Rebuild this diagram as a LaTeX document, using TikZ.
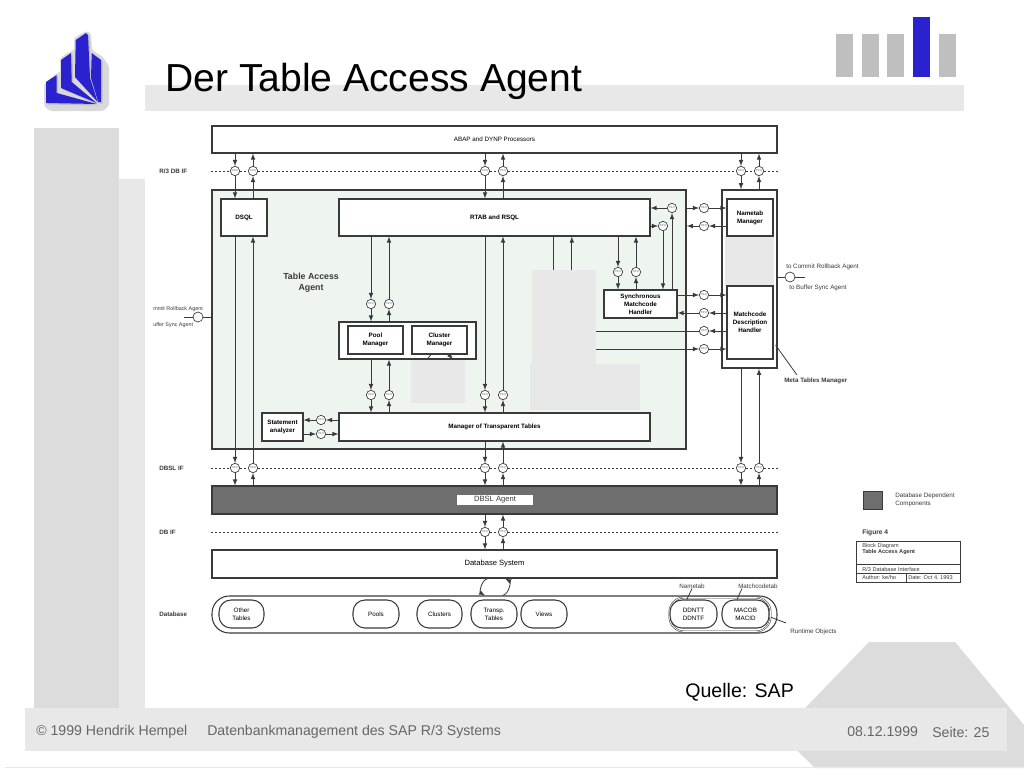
\documentclass[tikz,border=0pt]{standalone}
\usepackage{fontspec}
\setmainfont{Liberation Sans}
\usepackage{tikz}
\newcommand{\txtsmall}{\fontsize{4.7}{6}\selectfont}
\newcommand{\txtbold}{\fontsize{4.7}{6}\selectfont\bfseries}
\definecolor{band}{HTML}{E8E8E8}
\definecolor{panel}{HTML}{DCDCDC}
\definecolor{bar}{HTML}{BFBFBF}
\definecolor{logoblue}{HTML}{2B22CF}
\definecolor{agent}{HTML}{EEF5EF}
\definecolor{ink}{HTML}{3A3A3A}
\tikzset{
    box/.style 2 args={draw=ink,line width=.8pt,fill=white,inner sep=0pt,align=center,font=\txtbold,
        minimum width=#1*.75pt,minimum height=#2*.75pt},
    pill/.style 2 args={box={#1}{#2},rounded corners=9pt,font=\txtsmall},
    patch/.style 2 args={fill=band,inner sep=0pt,minimum width=#1*.75pt,minimum height=#2*.75pt},
    port/.style={circle,draw=ink,line width=.5pt,fill=white,inner sep=0pt,minimum size=7pt,
        font=\fontsize{2.2}{2.5}\selectfont,text=gray},
    lolly/.style={circle,draw=ink,line width=.5pt,fill=white,inner sep=0pt,minimum size=7.5pt},
    link/.style={line width=.6pt,draw=ink},
    ifline/.style={line width=.5pt,draw=ink,dash pattern=on 1.5pt off 1.5pt},
    lbl/.style={anchor=west,inner sep=0pt,font=\txtsmall,text=ink},
    lblb/.style={anchor=west,inner sep=0pt,font=\txtbold,text=ink},
    foot/.style={anchor=west,inner sep=0pt,font=\fontsize{10.6}{12}\selectfont,text=black!60}
}
\begin{document}
\begin{tikzpicture}[>=latex,x=.75pt,y=-.75pt]
    \useasboundingbox[fill=white] (0,0) rectangle (1024,768);
    % slide background
    \fill[panel] (34,128) rectangle (119,708);
    \fill[band] (119,179) rectangle (145,708);
    \fill[band] (145,85) rectangle (964,111);
    \fill[panel] (869,642)--(955,642)--(1024,725)--(1024,768)--(815,768)--(780,734)--cycle;
    \fill[band] (25,708) rectangle (1007,751);
    \draw[band,line width=.7pt] (5,767)--(1024,767);
    \foreach \x in {836,862,887,939}
    {
        \fill[bar] (\x,34) rectangle ++(17,43);
    }
    \fill[logoblue] (913,17) rectangle (930,77);
    % logo
    \fill[black!15,rounded corners=2pt] (44,84)--(57,73)--(60,73)--(60,58)--(71,51)--(74,51)--(74,38)--(86,31)--(91,33)--(92,50)--(103,57)--(109,66)--(109,106)--(103,111)--(50,111)--(44,106)--cycle;
    \foreach \c/\d in {bar/1.5,logoblue/0}
    {
        \begin{scope}[shift={(\d,\d)}]
            \fill[\c] (75.7,40)--(86,33)--(88,35)--(90,78)--(97.7,102)--(75,77)--cycle;
            \fill[\c] (91.7,53)--(101,60)--(101,102)--(98.3,102)--(91,78)--cycle;
            \fill[\c] (61,60)--(71,53)--(71.7,82)--(96.7,103)--(61,88)--cycle;
            \fill[\c] (46,82)--(56.7,75)--(56.7,93)--(96.7,104)--(46,103)--cycle;
        \end{scope}
    }
    \node[anchor=west,inner sep=0pt,font=\fontsize{29.3}{32}\selectfont] (title) at (165,81){Der Table Access Agent};
    \node[anchor=west,inner sep=0pt,font=\fontsize{14.7}{16}\selectfont] (source) at (685,692){Quelle: SAP};
    \node[foot] (copy) at (36,732){\textcopyright{} 1999 Hendrik Hempel};
    \node[foot] (course) at (207,732){Datenbankmanagement des SAP R/3 Systems};
    \node[foot] (date) at (847,732){08.12.1999};
    \node[foot] (page) at (932,732){Seite: 25};
    % blocks
    \node[box={565}{27},font=\txtsmall] (abap) at (494.5,139.5){ABAP and DYNP Processors};
    \node[box={474}{259},fill=agent,line width=1.2pt] (taa) at (449,319.5){};
    \node[box={46}{37}] (dsql) at (244,217.5){DSQL};
    \node[box={311}{37}] (rtab) at (494.5,217.5){RTAB and RSQL};
    \node[box={137}{37}] (pool) at (407.5,340.5){};
    \node[box={55}{28}] (poolm) at (375.5,340){Pool\\Manager};
    \node[box={55}{28}] (clusterm) at (439.5,340){Cluster\\Manager};
    \node[box={311}{28}] (trans) at (494.5,427){Manager of Transparent Tables};
    \node[box={41}{28}] (stmt) at (282.5,427){Statement\\analyzer};
    \node[box={73}{28}] (sync) at (640.5,304){Synchronous\\Matchcode\\Handler};
    \node[box={55}{178},line width=1.2pt] (meta) at (749.5,279){};
    \node[patch={49}{50}] (metapatch) at (749.5,261){};
    \node[box={46}{37}] (nametab) at (750,217.5){Nametab\\Manager};
    \node[box={46}{73}] (match) at (750,322.5){Matchcode\\Description\\Handler};
    \node[patch={54}{43}] (patcha) at (438,381.5){};
    \node[patch={64}{96}] (patchb) at (564,318){};
    \node[patch={110}{46}] (patchc) at (585,387){};
    \node[box={565}{28},fill=black!57] (dbsl) at (494.5,500){};
    \node[fill=white,inner sep=0pt,minimum width=57pt,minimum height=7.5pt,font=\fontsize{5.7}{7}\selectfont,text=ink] (dbsllabel) at (495,500){DBSL Agent};
    \node[box={565}{28},font=\fontsize{5.7}{7}\selectfont] (dbsys) at (494.5,564){Database System};
    \node[box={565}{37},rounded corners=13pt] (dbase) at (494.5,614.5){};
    \node[pill={45}{28}] (other) at (241.5,614){Other\\Tables};
    \node[pill={46}{28}] (pools) at (376,614){Pools};
    \node[pill={45}{28}] (clusters) at (439.5,614){Clusters};
    \node[pill={46}{28}] (transp) at (494,614){Transp.\\Tables};
    \node[pill={46}{28}] (views) at (544,614){Views};
    \node[pill={101}{34},double,line width=.4pt,double distance=.6pt,rounded corners=11pt] (runtime) at (720,614.5){};
    \node[pill={47}{28}] (ddntt) at (693.5,614){DDNTT\\DDNTF};
    \node[pill={47}{28}] (macob) at (745.5,614){MACOB\\MACID};
    % ports
    \foreach \n/\x in {ra/235,rb/253,rc/485,rd/503,re/741,rf/759}
    {
        \node[port] (\n) at (\x,171){REQ};
    }
    \foreach \n/\x in {la/235,lb/253,lc/485,ld/503,le/741,lf/759}
    {
        \node[port] (\n) at (\x,468){REQ};
    }
    \foreach \n/\x/\y in {da/485/532,db/503/532,pa/371/304,pb/389/304,ta/371/395,tb/389/395,
        tc/485/395,td/503/395,sa/618/272,sb/636/272,sc/663/226,sd/672/208,
        na/704/208,nb/704/226,mc/704/295,md/704/313,me/704/331,mf/704/349,ca/321/420,cb/321/434}
    {
        \node[port] (\n) at (\x,\y){REQ};
    }
    % interface lines
    \draw[ifline] (abap.west |- ra)--(ra)--(rb)--(rc)--(rd)--(re)--(rf)--(abap.east |- rf);
    \draw[ifline] (abap.west |- la)--(la)--(lb)--(lc)--(ld)--(le)--(lf)--(abap.east |- lf);
    \draw[ifline] (abap.west |- da)--(da)--(db)--(abap.east |- db);
    \node[lblb] (r3if) at (159,171){R/3 DB IF};
    \node[lblb] (dbslif) at (159,468){DBSL IF};
    \node[lblb] (dbif) at (159,532){DB IF};
    \node[lblb] (dblabel) at (159,614){Database};
    % vertical links through a port
    \foreach \from/\p/\to in {abap/ra/dsql,abap/rc/rtab,abap/re/meta,dsql/la/dbsl,trans/lc/dbsl,meta/le/dbsl,
        dbsl/da/dbsys,rtab/pa/pool,pool/ta/trans,rtab/tc/trans,rtab/sa/sync}
    {
        \draw[link,->] (\from.south -| \p)--(\p);
        \draw[link,->] (\p)--(\to.north -| \p);
    }
    \foreach \from/\p/\to in {dsql/rb/abap,rtab/rd/abap,meta/rf/abap,dbsl/lb/dsql,dbsl/ld/trans,dbsl/lf/meta,
        dbsys/db/dbsl,pool/pb/rtab,trans/tb/pool,trans/td/rtab,sync/sb/rtab}
    {
        \draw[link,->] (\from.north -| \p)--(\p);
        \draw[link,->] (\p)--(\to.south -| \p);
    }
    % horizontal links through a port
    \foreach \from/\p/\to in {taa/na/nametab,sync/mc/match,stmt/cb/trans}
    {
        \draw[link,->] (\from.east |- \p)--(\p);
        \draw[link,->] (\p)--(\to.west |- \p);
    }
    \foreach \from/\p/\to in {nametab/nb/taa,match/md/sync,trans/ca/stmt}
    {
        \draw[link,->] (\from.west |- \p)--(\p);
        \draw[link,->] (\p)--(\to.east |- \p);
    }
    \draw[link,->] (rtab.east |- sc)--(sc);
    \draw[link,->] (sc)--(sync.north -| sc);
    \draw[link,->] (sync.north -| sd)--(sd);
    \draw[link,->] (sd)--(rtab.east |- sd);
    \draw[link,->] (match.west |- me)--(me);
    \draw[link] (me)--(patchb.east |- me);
    \draw[link,->] (patchb.east |- mf)--(mf);
    \draw[link,->] (mf)--(match.west |- mf);
    \draw[link] ([xshift=44pt]rtab.south)--([xshift=44pt]patchb.north -| rtab.south);
    \draw[link,<-] ([xshift=58pt]rtab.south)--([xshift=58pt]patchb.north -| rtab.south);
    \draw[link] ([xshift=-6.4pt]clusterm.south)--([xshift=14.6pt]pool.south);
    \draw[link,->] ([xshift=7pt]clusterm.south)--([xshift=34pt]pool.south);
    \draw[link,->] ([xshift=-5pt]dbsys.south) to[bend right=70] ([xshift=-7pt]dbase.north);
    \draw[link,->] ([xshift=6pt]dbase.north) to[bend right=70] ([xshift=8pt]dbsys.south);
    % outside interfaces
    \node[lolly] (lollya) at (198,317){};
    \coordinate (lollyaend) at (184,317);
    \draw[link] (lollyaend)--(lollya);
    \draw[link] (lollya)--(taa.west |- lollya);
    \node[lbl,font=\fontsize{4.05}{5}\selectfont] (commita) at (153,309){mmit Rollback Agent};
    \node[lbl,font=\fontsize{4.05}{5}\selectfont] (buffera) at (153,325){uffer Sync Agent};
    \node[lolly] (lollyb) at (790,277){};
    \coordinate (lollybend) at (805,277);
    \draw[link] (meta.east |- lollyb)--(lollyb);
    \draw[link] (lollyb)--(lollybend);
    \node[lbl] (commitb) at (786,267){to Commit Rollback Agent};
    \node[lbl] (bufferb) at (789,288){to Buffer Sync Agent};
    \node[lblb] (metalabel) at (784,381){Meta Tables Manager};
    \coordinate (metaend) at (797,375);
    \draw[link] (metaend)--([xshift=1.5pt,yshift=-16.9pt]match.east);
    % note labels
    \node[lbl] (namelabel) at (679,586){Nametab};
    \node[lbl] (matchlabel) at (738,586){Matchcodetab};
    \node[lbl] (runtimelabel) at (790,632){Runtime Objects};
    \coordinate (runtimeend) at (786,623);
    \draw[link] (namelabel.south)--([xshift=-5pt]ddntt.north);
    \draw[link] ([xshift=-12pt]matchlabel.south)--([xshift=-6.4pt]macob.north);
    \draw[link] ([yshift=-2pt]runtime.east)--(runtimeend);
    \node[anchor=west,inner sep=0pt,font=\fontsize{6.6}{8}\selectfont\bfseries,align=center,text=ink] (taalabel) at (283,283){Table Access\\Agent};
    % legend
    \node[box={19}{18},fill=black!57,line width=.4pt] (legend) at (872.5,500){};
    \node[lbl,align=left] (legendtext) at (895,499.5){Database Dependent\\Components};
    \node[lblb,font=\fontsize{5}{6}\selectfont\bfseries] (figlabel) at (862,533){Figure 4};
    \node[box={104}{23},line width=.6pt] (figa) at (908,552.5){};
    \node[box={104}{9},line width=.6pt] (figb) at (908,568.5){};
    \node[box={50}{9},line width=.6pt] (figc) at (881,577.5){};
    \node[box={54}{9},line width=.6pt] (figd) at (933,577.5){};
    \node[lbl,font=\fontsize{4.2}{5}\selectfont] (figt) at (862,546){Block Diagram};
    \node[lblb,font=\fontsize{4.2}{5}\selectfont\bfseries] (figs) at (862,552){Table Access Agent};
    \node[lbl,font=\fontsize{4.2}{5}\selectfont] (figi) at (862,569){R/3 Database Interface};
    \node[lbl,font=\fontsize{4.2}{5}\selectfont] (figk) at (862,577.5){Author:  ke/ho};
    \node[lbl,font=\fontsize{4.2}{5}\selectfont] (figd2) at (908,577.5){Date:  Oct 4, 1993};
\end{tikzpicture}
\end{document}
